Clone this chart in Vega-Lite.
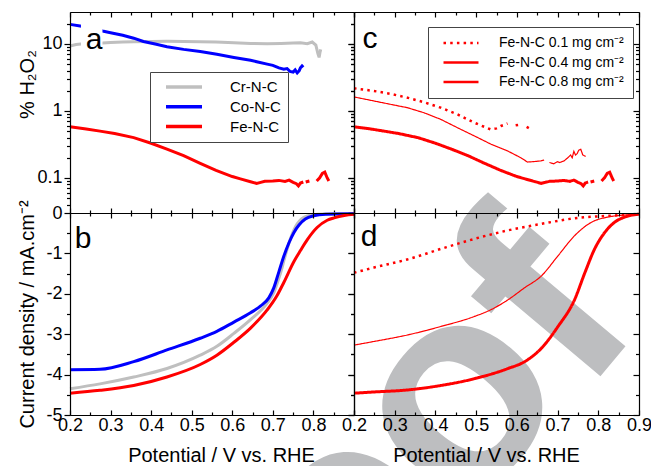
{
"$schema":"https://vega.github.io/schema/vega-lite/v6.json",
"padding":{"left":16,"top":11,"right":0,"bottom":0},
"config":{"font":"Liberation Sans","view":{"stroke":null},
"axis":{"domainColor":"#000","domainWidth":1.2,"tickColor":"#000","tickWidth":1.2,"labelColor":"#000","titleColor":"#000","grid":false,"zindex":1,"labelFontSize":18,"titleFontSize":20,"titleFontWeight":"normal","labelFlush":false,"labelOverlap":false,"labelBound":false,"labelFont":"Liberation Sans","titleFont":"Liberation Sans"},
"legend":{"labelFont":"Liberation Sans"}},
"columns":2,"spacing":0,"bounds":"flush",
"concat":[
{"width":284,"height":201,
"data":{"values":[
{"series":"Cr-N-C","seg":1,"V":0.2,"pct":9.3},{"series":"Cr-N-C","seg":1,"V":0.215,"pct":9.8},{"series":"Cr-N-C","seg":1,"V":0.233,"pct":10.1},{"series":"Cr-N-C","seg":1,"V":0.26,"pct":10.2},{"series":"Cr-N-C","seg":1,"V":0.28,"pct":10.3},{"series":"Cr-N-C","seg":1,"V":0.3,"pct":10.5},{"series":"Cr-N-C","seg":1,"V":0.33,"pct":10.7},{"series":"Cr-N-C","seg":1,"V":0.357,"pct":10.8},{"series":"Cr-N-C","seg":1,"V":0.4,"pct":10.9},{"series":"Cr-N-C","seg":1,"V":0.439,"pct":10.95},{"series":"Cr-N-C","seg":1,"V":0.48,"pct":10.9},{"series":"Cr-N-C","seg":1,"V":0.521,"pct":10.8},{"series":"Cr-N-C","seg":1,"V":0.56,"pct":10.7},{"series":"Cr-N-C","seg":1,"V":0.604,"pct":10.4},{"series":"Cr-N-C","seg":1,"V":0.645,"pct":10.2},{"series":"Cr-N-C","seg":1,"V":0.686,"pct":10.1},{"series":"Cr-N-C","seg":1,"V":0.72,"pct":10.2},{"series":"Cr-N-C","seg":1,"V":0.75,"pct":10.3},{"series":"Cr-N-C","seg":1,"V":0.768,"pct":10.4},{"series":"Cr-N-C","seg":1,"V":0.785,"pct":10.1},{"series":"Cr-N-C","seg":1,"V":0.797,"pct":10.7},{"series":"Cr-N-C","seg":1,"V":0.806,"pct":9.6},{"series":"Cr-N-C","seg":1,"V":0.811,"pct":7.2},{"series":"Cr-N-C","seg":1,"V":0.814,"pct":6.3},{"series":"Cr-N-C","seg":1,"V":0.816,"pct":7.4},{"series":"Cr-N-C","seg":1,"V":0.818,"pct":8.3},
{"series":"Co-N-C","seg":1,"V":0.2,"pct":19.6},{"series":"Co-N-C","seg":1,"V":0.225,"pct":18.6},{"series":"Co-N-C","seg":1,"V":0.25,"pct":17.5},{"series":"Co-N-C","seg":1,"V":0.28,"pct":15.6},{"series":"Co-N-C","seg":1,"V":0.3,"pct":14.7},{"series":"Co-N-C","seg":1,"V":0.33,"pct":13.5},{"series":"Co-N-C","seg":1,"V":0.357,"pct":12.2},{"series":"Co-N-C","seg":1,"V":0.381,"pct":10.9},{"series":"Co-N-C","seg":1,"V":0.41,"pct":10.0},{"series":"Co-N-C","seg":1,"V":0.439,"pct":9.1},{"series":"Co-N-C","seg":1,"V":0.48,"pct":8.3},{"series":"Co-N-C","seg":1,"V":0.521,"pct":7.7},{"series":"Co-N-C","seg":1,"V":0.562,"pct":7.0},{"series":"Co-N-C","seg":1,"V":0.604,"pct":6.3},{"series":"Co-N-C","seg":1,"V":0.645,"pct":5.7},{"series":"Co-N-C","seg":1,"V":0.686,"pct":5.0},{"series":"Co-N-C","seg":1,"V":0.7,"pct":4.8},{"series":"Co-N-C","seg":1,"V":0.715,"pct":4.4},{"series":"Co-N-C","seg":1,"V":0.727,"pct":4.2},{"series":"Co-N-C","seg":1,"V":0.735,"pct":4.3},{"series":"Co-N-C","seg":1,"V":0.742,"pct":3.9},{"series":"Co-N-C","seg":1,"V":0.75,"pct":3.8},{"series":"Co-N-C","seg":1,"V":0.755,"pct":4.1},{"series":"Co-N-C","seg":1,"V":0.76,"pct":3.7},{"series":"Co-N-C","seg":1,"V":0.765,"pct":4.0},{"series":"Co-N-C","seg":1,"V":0.768,"pct":4.4},{"series":"Co-N-C","seg":1,"V":0.772,"pct":4.7},{"series":"Co-N-C","seg":1,"V":0.775,"pct":4.5},
{"series":"Fe-N-C","seg":1,"V":0.2,"pct":0.58},{"series":"Fe-N-C","seg":1,"V":0.24,"pct":0.54},{"series":"Fe-N-C","seg":1,"V":0.274,"pct":0.5},{"series":"Fe-N-C","seg":1,"V":0.31,"pct":0.46},{"series":"Fe-N-C","seg":1,"V":0.357,"pct":0.4},{"series":"Fe-N-C","seg":1,"V":0.4,"pct":0.33},{"series":"Fe-N-C","seg":1,"V":0.439,"pct":0.27},{"series":"Fe-N-C","seg":1,"V":0.48,"pct":0.215},{"series":"Fe-N-C","seg":1,"V":0.521,"pct":0.165},{"series":"Fe-N-C","seg":1,"V":0.56,"pct":0.13},{"series":"Fe-N-C","seg":1,"V":0.6,"pct":0.105},{"series":"Fe-N-C","seg":1,"V":0.62,"pct":0.097},{"series":"Fe-N-C","seg":1,"V":0.645,"pct":0.088},{"series":"Fe-N-C","seg":1,"V":0.66,"pct":0.083},{"series":"Fe-N-C","seg":1,"V":0.67,"pct":0.086},{"series":"Fe-N-C","seg":1,"V":0.68,"pct":0.089},{"series":"Fe-N-C","seg":1,"V":0.7,"pct":0.09},{"series":"Fe-N-C","seg":1,"V":0.715,"pct":0.092},{"series":"Fe-N-C","seg":1,"V":0.73,"pct":0.089},{"series":"Fe-N-C","seg":1,"V":0.74,"pct":0.093},{"series":"Fe-N-C","seg":1,"V":0.75,"pct":0.086},{"series":"Fe-N-C","seg":1,"V":0.758,"pct":0.082},{"series":"Fe-N-C","seg":1,"V":0.763,"pct":0.076},{"series":"Fe-N-C","seg":1,"V":0.768,"pct":0.084},{"series":"Fe-N-C","seg":1,"V":0.775,"pct":0.087},
{"series":"Fe-N-C","seg":2,"V":0.781,"pct":0.087},{"series":"Fe-N-C","seg":2,"V":0.79,"pct":0.09},
{"series":"Fe-N-C","seg":3,"V":0.808,"pct":0.09},{"series":"Fe-N-C","seg":3,"V":0.815,"pct":0.1},{"series":"Fe-N-C","seg":3,"V":0.822,"pct":0.117},{"series":"Fe-N-C","seg":3,"V":0.828,"pct":0.122},{"series":"Fe-N-C","seg":3,"V":0.834,"pct":0.1},{"series":"Fe-N-C","seg":3,"V":0.838,"pct":0.09}
]},
"layer":[
{"mark":{"type":"line","strokeWidth":3,"clip":false},
"encoding":{
"x":{"field":"V","type":"quantitative","scale":{"domain":[0.2,0.9],"nice":false,"zero":false},
"axis":{"orient":"bottom","values":[0.2,0.3,0.4,0.5,0.6,0.7,0.8,0.9],"labels":false,"title":null,"tickSize":-5,"zindex":1}},
"y":{"field":"pct","type":"quantitative","scale":{"type":"log","domain":[0.03,30],"nice":false},
"axis":{"orient":"left","values":[0.1,1,10],"format":"~g","labelPadding":2,"title":"% H₂O₂","titleX":-33,"titleY":72,"tickSize":6,"zindex":1}},
"color":{"field":"series","type":"nominal","scale":{"domain":["Cr-N-C","Co-N-C","Fe-N-C"],"range":["#bfbfbf","#0000ff","#ff0000"]},
"legend":{"orient":"none","legendX":80,"legendY":60,"title":null,"symbolType":"M-3,0H3","symbolSize":144,"symbolOffset":19,"symbolStrokeWidth":3.5,"labelFontSize":15,"labelColor":"#000","labelExpr":"datum.label + '  '","strokeColor":"#444","fillColor":"#fff","padding":7,"rowPadding":3.8,"labelOffset":38}},
"detail":{"field":"seg","type":"nominal"}}},
{"mark":{"type":"line","opacity":0},
"encoding":{
"x":{"field":"V","type":"quantitative","axis":{"orient":"top","values":[0.2,0.3,0.4,0.5,0.6,0.7,0.8,0.9],"labels":false,"title":null,"tickSize":-5,"zindex":1}},
"y":{"field":"pct","type":"quantitative","axis":{"orient":"right","values":[0.1,1,10],"labels":false,"title":null,"tickSize":-6,"zindex":1}},
"detail":{"field":"series","type":"nominal"}}},
{"mark":{"type":"line","opacity":0},
"encoding":{
"x":{"field":"V","type":"quantitative","axis":{"orient":"bottom","values":[0.25,0.35,0.45,0.55,0.65,0.75,0.85],"domain":false,"labels":false,"title":null,"tickSize":-3,"zindex":1}},
"y":{"field":"pct","type":"quantitative","axis":{"orient":"left","values":[0.04,0.05,0.06,0.07,0.08,0.09,0.2,0.3,0.4,0.5,0.6,0.7,0.8,0.9,2,3,4,5,6,7,8,9,20],"domain":false,"labels":false,"title":null,"tickSize":3.5,"zindex":1}},
"detail":{"field":"series","type":"nominal"}}},
{"mark":{"type":"line","opacity":0},
"encoding":{
"x":{"field":"V","type":"quantitative","axis":{"orient":"top","values":[0.25,0.35,0.45,0.55,0.65,0.75,0.85],"domain":false,"labels":false,"title":null,"tickSize":-3,"zindex":1}},
"y":{"field":"pct","type":"quantitative","axis":{"orient":"right","values":[0.04,0.05,0.06,0.07,0.08,0.09,0.2,0.3,0.4,0.5,0.6,0.7,0.8,0.9,2,3,4,5,6,7,8,9,20],"domain":false,"labels":false,"title":null,"tickSize":-3.5,"zindex":1}},
"detail":{"field":"series","type":"nominal"}}},
{"data":{"values":[{"V":0.227,"V2":0.28,"pct":22,"pct2":7.9}]},"mark":{"type":"rect","fill":"#fff"},
"encoding":{"x":{"field":"V","type":"quantitative","axis":null},"x2":{"field":"V2"},"y":{"field":"pct","type":"quantitative","axis":null},"y2":{"field":"pct2"}}},
{"data":{"values":[{"lab":"a","V":0.239,"pct":8.4}]},"mark":{"type":"text","fontSize":30,"align":"left","baseline":"alphabetic","color":"#000"},
"encoding":{"x":{"field":"V","type":"quantitative","axis":null},"y":{"field":"pct","type":"quantitative","axis":null},"text":{"field":"lab"}}}
],
"resolve":{"axis":{"x":"independent","y":"independent"}}},

{"width":285,"height":201,
"data":{"values":[
{"series":"Fe-N-C 0.1 mg cm⁻²","seg":1,"V":0.2,"pct":2.18},{"series":"Fe-N-C 0.1 mg cm⁻²","seg":1,"V":0.249,"pct":1.99},{"series":"Fe-N-C 0.1 mg cm⁻²","seg":1,"V":0.29,"pct":1.8},{"series":"Fe-N-C 0.1 mg cm⁻²","seg":1,"V":0.331,"pct":1.58},{"series":"Fe-N-C 0.1 mg cm⁻²","seg":1,"V":0.372,"pct":1.35},{"series":"Fe-N-C 0.1 mg cm⁻²","seg":1,"V":0.413,"pct":1.12},{"series":"Fe-N-C 0.1 mg cm⁻²","seg":1,"V":0.454,"pct":0.89},{"series":"Fe-N-C 0.1 mg cm⁻²","seg":1,"V":0.495,"pct":0.67},{"series":"Fe-N-C 0.1 mg cm⁻²","seg":1,"V":0.52,"pct":0.58},{"series":"Fe-N-C 0.1 mg cm⁻²","seg":1,"V":0.536,"pct":0.53},{"series":"Fe-N-C 0.1 mg cm⁻²","seg":1,"V":0.55,"pct":0.55},{"series":"Fe-N-C 0.1 mg cm⁻²","seg":1,"V":0.561,"pct":0.597},{"series":"Fe-N-C 0.1 mg cm⁻²","seg":1,"V":0.577,"pct":0.65},
{"series":"Fe-N-C 0.1 mg cm⁻²","seg":2,"V":0.597,"pct":0.61},{"series":"Fe-N-C 0.1 mg cm⁻²","seg":2,"V":0.612,"pct":0.63},
{"series":"Fe-N-C 0.1 mg cm⁻²","seg":3,"V":0.624,"pct":0.58},{"series":"Fe-N-C 0.1 mg cm⁻²","seg":3,"V":0.633,"pct":0.54},
{"series":"Fe-N-C 0.4 mg cm⁻²","seg":1,"V":0.2,"pct":1.62},{"series":"Fe-N-C 0.4 mg cm⁻²","seg":1,"V":0.249,"pct":1.41},{"series":"Fe-N-C 0.4 mg cm⁻²","seg":1,"V":0.3,"pct":1.22},{"series":"Fe-N-C 0.4 mg cm⁻²","seg":1,"V":0.331,"pct":1.12},{"series":"Fe-N-C 0.4 mg cm⁻²","seg":1,"V":0.372,"pct":0.94},{"series":"Fe-N-C 0.4 mg cm⁻²","seg":1,"V":0.413,"pct":0.75},{"series":"Fe-N-C 0.4 mg cm⁻²","seg":1,"V":0.454,"pct":0.563},{"series":"Fe-N-C 0.4 mg cm⁻²","seg":1,"V":0.496,"pct":0.423},{"series":"Fe-N-C 0.4 mg cm⁻²","seg":1,"V":0.537,"pct":0.318},{"series":"Fe-N-C 0.4 mg cm⁻²","seg":1,"V":0.578,"pct":0.252},{"series":"Fe-N-C 0.4 mg cm⁻²","seg":1,"V":0.61,"pct":0.2},{"series":"Fe-N-C 0.4 mg cm⁻²","seg":1,"V":0.626,"pct":0.173},{"series":"Fe-N-C 0.4 mg cm⁻²","seg":1,"V":0.64,"pct":0.175},{"series":"Fe-N-C 0.4 mg cm⁻²","seg":1,"V":0.659,"pct":0.18},{"series":"Fe-N-C 0.4 mg cm⁻²","seg":1,"V":0.667,"pct":0.185},
{"series":"Fe-N-C 0.4 mg cm⁻²","seg":2,"V":0.68,"pct":0.17},{"series":"Fe-N-C 0.4 mg cm⁻²","seg":2,"V":0.691,"pct":0.163},{"series":"Fe-N-C 0.4 mg cm⁻²","seg":2,"V":0.7,"pct":0.175},{"series":"Fe-N-C 0.4 mg cm⁻²","seg":2,"V":0.705,"pct":0.17},{"series":"Fe-N-C 0.4 mg cm⁻²","seg":2,"V":0.716,"pct":0.18},{"series":"Fe-N-C 0.4 mg cm⁻²","seg":2,"V":0.725,"pct":0.2},{"series":"Fe-N-C 0.4 mg cm⁻²","seg":2,"V":0.732,"pct":0.22},{"series":"Fe-N-C 0.4 mg cm⁻²","seg":2,"V":0.736,"pct":0.2},{"series":"Fe-N-C 0.4 mg cm⁻²","seg":2,"V":0.74,"pct":0.25},{"series":"Fe-N-C 0.4 mg cm⁻²","seg":2,"V":0.744,"pct":0.22},{"series":"Fe-N-C 0.4 mg cm⁻²","seg":2,"V":0.748,"pct":0.23},{"series":"Fe-N-C 0.4 mg cm⁻²","seg":2,"V":0.752,"pct":0.26},{"series":"Fe-N-C 0.4 mg cm⁻²","seg":2,"V":0.757,"pct":0.268},{"series":"Fe-N-C 0.4 mg cm⁻²","seg":2,"V":0.762,"pct":0.22},{"series":"Fe-N-C 0.4 mg cm⁻²","seg":2,"V":0.769,"pct":0.21},
{"series":"Fe-N-C 0.8 mg cm⁻²","seg":1,"V":0.2,"pct":0.58},{"series":"Fe-N-C 0.8 mg cm⁻²","seg":1,"V":0.24,"pct":0.54},{"series":"Fe-N-C 0.8 mg cm⁻²","seg":1,"V":0.274,"pct":0.5},{"series":"Fe-N-C 0.8 mg cm⁻²","seg":1,"V":0.31,"pct":0.46},{"series":"Fe-N-C 0.8 mg cm⁻²","seg":1,"V":0.357,"pct":0.4},{"series":"Fe-N-C 0.8 mg cm⁻²","seg":1,"V":0.4,"pct":0.33},{"series":"Fe-N-C 0.8 mg cm⁻²","seg":1,"V":0.439,"pct":0.27},{"series":"Fe-N-C 0.8 mg cm⁻²","seg":1,"V":0.48,"pct":0.215},{"series":"Fe-N-C 0.8 mg cm⁻²","seg":1,"V":0.521,"pct":0.165},{"series":"Fe-N-C 0.8 mg cm⁻²","seg":1,"V":0.56,"pct":0.13},{"series":"Fe-N-C 0.8 mg cm⁻²","seg":1,"V":0.6,"pct":0.105},{"series":"Fe-N-C 0.8 mg cm⁻²","seg":1,"V":0.62,"pct":0.097},{"series":"Fe-N-C 0.8 mg cm⁻²","seg":1,"V":0.645,"pct":0.088},{"series":"Fe-N-C 0.8 mg cm⁻²","seg":1,"V":0.66,"pct":0.083},{"series":"Fe-N-C 0.8 mg cm⁻²","seg":1,"V":0.67,"pct":0.086},{"series":"Fe-N-C 0.8 mg cm⁻²","seg":1,"V":0.68,"pct":0.089},{"series":"Fe-N-C 0.8 mg cm⁻²","seg":1,"V":0.7,"pct":0.09},{"series":"Fe-N-C 0.8 mg cm⁻²","seg":1,"V":0.715,"pct":0.092},{"series":"Fe-N-C 0.8 mg cm⁻²","seg":1,"V":0.73,"pct":0.089},{"series":"Fe-N-C 0.8 mg cm⁻²","seg":1,"V":0.74,"pct":0.093},{"series":"Fe-N-C 0.8 mg cm⁻²","seg":1,"V":0.75,"pct":0.086},{"series":"Fe-N-C 0.8 mg cm⁻²","seg":1,"V":0.758,"pct":0.082},{"series":"Fe-N-C 0.8 mg cm⁻²","seg":1,"V":0.763,"pct":0.076},{"series":"Fe-N-C 0.8 mg cm⁻²","seg":1,"V":0.768,"pct":0.084},{"series":"Fe-N-C 0.8 mg cm⁻²","seg":1,"V":0.775,"pct":0.087},
{"series":"Fe-N-C 0.8 mg cm⁻²","seg":2,"V":0.781,"pct":0.087},{"series":"Fe-N-C 0.8 mg cm⁻²","seg":2,"V":0.79,"pct":0.09},
{"series":"Fe-N-C 0.8 mg cm⁻²","seg":3,"V":0.808,"pct":0.09},{"series":"Fe-N-C 0.8 mg cm⁻²","seg":3,"V":0.815,"pct":0.1},{"series":"Fe-N-C 0.8 mg cm⁻²","seg":3,"V":0.822,"pct":0.117},{"series":"Fe-N-C 0.8 mg cm⁻²","seg":3,"V":0.828,"pct":0.122},{"series":"Fe-N-C 0.8 mg cm⁻²","seg":3,"V":0.834,"pct":0.1},{"series":"Fe-N-C 0.8 mg cm⁻²","seg":3,"V":0.838,"pct":0.09}
]},
"layer":[
{"mark":{"type":"line","color":"#ff0000","clip":false},
"encoding":{
"x":{"field":"V","type":"quantitative","scale":{"domain":[0.2,0.9],"nice":false,"zero":false},
"axis":{"orient":"bottom","values":[0.2,0.3,0.4,0.5,0.6,0.7,0.8,0.9],"labels":false,"title":null,"tickSize":-5,"zindex":1}},
"y":{"field":"pct","type":"quantitative","scale":{"type":"log","domain":[0.03,30],"nice":false},
"axis":{"orient":"left","values":[0.1,1,10],"labels":false,"title":null,"tickSize":6,"zindex":1}},
"strokeDash":{"field":"series","type":"nominal","scale":{"domain":["Fe-N-C 0.1 mg cm⁻²","Fe-N-C 0.4 mg cm⁻²","Fe-N-C 0.8 mg cm⁻²"],"range":[[2.5,4.2],[1,0],[1,0]]},
"legend":{"orient":"none","legendX":358,"legendY":15,"title":null,"symbolType":"M-3,0H3","symbolSize":136,"symbolOffset":17,"symbolStrokeColor":"#ff0000","symbolStrokeWidth":2.3,"labelFontSize":14,"labelColor":"#000","labelExpr":"datum.label + '     '","strokeColor":"#444","fillColor":"#fff","padding":9,"rowPadding":5.5,"labelOffset":31}},
"strokeWidth":{"condition":[{"test":"indexof(datum.series,'0.4')>=0","value":1.2},{"test":"indexof(datum.series,'0.1')>=0","value":2.5}],"value":3},
"detail":{"field":"seg","type":"nominal"}}},
{"mark":{"type":"line","opacity":0},
"encoding":{
"x":{"field":"V","type":"quantitative","axis":{"orient":"top","values":[0.2,0.3,0.4,0.5,0.6,0.7,0.8,0.9],"labels":false,"title":null,"tickSize":-5,"zindex":1}},
"y":{"field":"pct","type":"quantitative","axis":{"orient":"right","values":[0.1,1,10],"labels":false,"title":null,"tickSize":-6,"zindex":1}},
"detail":{"field":"series","type":"nominal"}}},
{"mark":{"type":"line","opacity":0},
"encoding":{
"x":{"field":"V","type":"quantitative","axis":{"orient":"bottom","values":[0.25,0.35,0.45,0.55,0.65,0.75,0.85],"domain":false,"labels":false,"title":null,"tickSize":-3,"zindex":1}},
"y":{"field":"pct","type":"quantitative","axis":{"orient":"left","values":[0.04,0.05,0.06,0.07,0.08,0.09,0.2,0.3,0.4,0.5,0.6,0.7,0.8,0.9,2,3,4,5,6,7,8,9,20],"domain":false,"labels":false,"title":null,"tickSize":3.5,"zindex":1}},
"detail":{"field":"series","type":"nominal"}}},
{"mark":{"type":"line","opacity":0},
"encoding":{
"x":{"field":"V","type":"quantitative","axis":{"orient":"top","values":[0.25,0.35,0.45,0.55,0.65,0.75,0.85],"domain":false,"labels":false,"title":null,"tickSize":-3,"zindex":1}},
"y":{"field":"pct","type":"quantitative","axis":{"orient":"right","values":[0.04,0.05,0.06,0.07,0.08,0.09,0.2,0.3,0.4,0.5,0.6,0.7,0.8,0.9,2,3,4,5,6,7,8,9,20],"domain":false,"labels":false,"title":null,"tickSize":-3.5,"zindex":1}},
"detail":{"field":"series","type":"nominal"}}},
{"data":{"values":[{"lab":"c","V":0.221,"pct":8.8}]},"mark":{"type":"text","fontSize":30,"align":"left","baseline":"alphabetic","color":"#000"},
"encoding":{"x":{"field":"V","type":"quantitative","axis":null},"y":{"field":"pct","type":"quantitative","axis":null},"text":{"field":"lab"}}}
],
"resolve":{"axis":{"x":"independent","y":"independent"}}},

{"width":284,"height":202,
"data":{"values":[
{"series":"Cr-N-C","V":0.2,"J":-4.35},{"series":"Cr-N-C","V":0.274,"J":-4.23},{"series":"Cr-N-C","V":0.357,"J":-4.06},{"series":"Cr-N-C","V":0.439,"J":-3.85},{"series":"Cr-N-C","V":0.521,"J":-3.52},{"series":"Cr-N-C","V":0.562,"J":-3.3},{"series":"Cr-N-C","V":0.604,"J":-2.98},{"series":"Cr-N-C","V":0.645,"J":-2.64},{"series":"Cr-N-C","V":0.686,"J":-2.23},{"series":"Cr-N-C","V":0.702,"J":-1.98},{"series":"Cr-N-C","V":0.712,"J":-1.7},{"series":"Cr-N-C","V":0.72,"J":-1.45},{"series":"Cr-N-C","V":0.728,"J":-1.15},{"series":"Cr-N-C","V":0.735,"J":-0.9},{"series":"Cr-N-C","V":0.744,"J":-0.62},{"series":"Cr-N-C","V":0.752,"J":-0.42},{"series":"Cr-N-C","V":0.76,"J":-0.27},{"series":"Cr-N-C","V":0.77,"J":-0.15},{"series":"Cr-N-C","V":0.785,"J":-0.07},{"series":"Cr-N-C","V":0.81,"J":-0.03},{"series":"Cr-N-C","V":0.85,"J":-0.02},{"series":"Cr-N-C","V":0.9,"J":-0.02},
{"series":"Co-N-C","V":0.2,"J":-3.88},{"series":"Co-N-C","V":0.274,"J":-3.87},{"series":"Co-N-C","V":0.357,"J":-3.68},{"series":"Co-N-C","V":0.439,"J":-3.39},{"series":"Co-N-C","V":0.521,"J":-3.1},{"series":"Co-N-C","V":0.562,"J":-2.93},{"series":"Co-N-C","V":0.604,"J":-2.7},{"series":"Co-N-C","V":0.645,"J":-2.47},{"series":"Co-N-C","V":0.67,"J":-2.3},{"series":"Co-N-C","V":0.69,"J":-2.1},{"series":"Co-N-C","V":0.702,"J":-1.86},{"series":"Co-N-C","V":0.715,"J":-1.45},{"series":"Co-N-C","V":0.727,"J":-1.07},{"series":"Co-N-C","V":0.74,"J":-0.73},{"series":"Co-N-C","V":0.752,"J":-0.48},{"series":"Co-N-C","V":0.765,"J":-0.29},{"series":"Co-N-C","V":0.78,"J":-0.15},{"series":"Co-N-C","V":0.8,"J":-0.07},{"series":"Co-N-C","V":0.83,"J":-0.03},{"series":"Co-N-C","V":0.9,"J":-0.02},
{"series":"Fe-N-C","V":0.2,"J":-4.46},{"series":"Fe-N-C","V":0.274,"J":-4.39},{"series":"Fe-N-C","V":0.357,"J":-4.27},{"series":"Fe-N-C","V":0.439,"J":-4.06},{"series":"Fe-N-C","V":0.521,"J":-3.75},{"series":"Fe-N-C","V":0.562,"J":-3.52},{"series":"Fe-N-C","V":0.604,"J":-3.2},{"series":"Fe-N-C","V":0.645,"J":-2.85},{"series":"Fe-N-C","V":0.686,"J":-2.4},{"series":"Fe-N-C","V":0.71,"J":-2.05},{"series":"Fe-N-C","V":0.727,"J":-1.72},{"series":"Fe-N-C","V":0.752,"J":-1.2},{"series":"Fe-N-C","V":0.768,"J":-0.93},{"series":"Fe-N-C","V":0.785,"J":-0.66},{"series":"Fe-N-C","V":0.809,"J":-0.36},{"series":"Fe-N-C","V":0.834,"J":-0.18},{"series":"Fe-N-C","V":0.851,"J":-0.12},{"series":"Fe-N-C","V":0.876,"J":-0.06},{"series":"Fe-N-C","V":0.9,"J":-0.03}
]},
"layer":[
{"mark":{"type":"line","strokeWidth":3,"interpolate":"monotone","clip":false},
"encoding":{
"x":{"field":"V","type":"quantitative","scale":{"domain":[0.2,0.9],"nice":false,"zero":false},
"axis":{"orient":"bottom","values":[0.2,0.3,0.4,0.5,0.6,0.7,0.8,0.9],"labelExpr":"datum.value>0.85 ? '' : format(datum.value,'.1f')","labelPadding":6,"title":"Potential / V vs. RHE","titleX":151,"titleY":30,"tickSize":-5,"zindex":1}},
"y":{"field":"J","type":"quantitative","scale":{"domain":[-5,0],"nice":false,"zero":false},
"axis":{"orient":"left","values":[-5,-4,-3,-2,-1,0],"labelExpr":"'' + datum.value","labelPadding":2,"title":"Current density / mA.cm⁻²","titleX":-33,"titleY":101,"tickSize":6,"zindex":1}},
"color":{"field":"series","type":"nominal","scale":{"domain":["Cr-N-C","Co-N-C","Fe-N-C"],"range":["#bfbfbf","#0000ff","#ff0000"]},"legend":null}}},
{"mark":{"type":"line","opacity":0},
"encoding":{
"x":{"field":"V","type":"quantitative","axis":{"orient":"top","values":[0.2,0.3,0.4,0.5,0.6,0.7,0.8,0.9],"labels":false,"title":null,"tickSize":-5,"zindex":1}},
"y":{"field":"J","type":"quantitative","axis":{"orient":"right","values":[-5,-4,-3,-2,-1,0],"labels":false,"title":null,"tickSize":-6,"zindex":1}},
"detail":{"field":"series","type":"nominal"}}},
{"mark":{"type":"line","opacity":0},
"encoding":{
"x":{"field":"V","type":"quantitative","axis":{"orient":"bottom","values":[0.25,0.35,0.45,0.55,0.65,0.75,0.85],"domain":false,"labels":false,"title":null,"tickSize":-3,"zindex":1}},
"y":{"field":"J","type":"quantitative","axis":{"orient":"left","values":[-4.5,-3.5,-2.5,-1.5,-0.5],"domain":false,"labels":false,"title":null,"tickSize":3.5,"zindex":1}},
"detail":{"field":"series","type":"nominal"}}},
{"mark":{"type":"line","opacity":0},
"encoding":{
"x":{"field":"V","type":"quantitative","axis":{"orient":"top","values":[0.25,0.35,0.45,0.55,0.65,0.75,0.85],"domain":false,"labels":false,"title":null,"tickSize":-3,"zindex":1}},
"y":{"field":"J","type":"quantitative","axis":{"orient":"right","values":[-4.5,-3.5,-2.5,-1.5,-0.5],"domain":false,"labels":false,"title":null,"tickSize":-3.5,"zindex":1}},
"detail":{"field":"series","type":"nominal"}}},
{"data":{"values":[{"lab":"b","V":0.2116,"J":-0.86}]},"mark":{"type":"text","fontSize":30,"align":"left","baseline":"alphabetic","color":"#000"},
"encoding":{"x":{"field":"V","type":"quantitative","axis":null},"y":{"field":"J","type":"quantitative","axis":null},"text":{"field":"lab"}}}
],
"resolve":{"axis":{"x":"independent","y":"independent"}}},

{"width":285,"height":202,
"data":{"values":[
{"series":"Fe-N-C 0.1 mg cm⁻²","V":0.2,"J":-1.48},{"series":"Fe-N-C 0.1 mg cm⁻²","V":0.249,"J":-1.35},{"series":"Fe-N-C 0.1 mg cm⁻²","V":0.331,"J":-1.15},{"series":"Fe-N-C 0.1 mg cm⁻²","V":0.413,"J":-0.89},{"series":"Fe-N-C 0.1 mg cm⁻²","V":0.496,"J":-0.64},{"series":"Fe-N-C 0.1 mg cm⁻²","V":0.578,"J":-0.43},{"series":"Fe-N-C 0.1 mg cm⁻²","V":0.66,"J":-0.27},{"series":"Fe-N-C 0.1 mg cm⁻²","V":0.742,"J":-0.13},{"series":"Fe-N-C 0.1 mg cm⁻²","V":0.824,"J":-0.07},{"series":"Fe-N-C 0.1 mg cm⁻²","V":0.9,"J":-0.03},
{"series":"Fe-N-C 0.4 mg cm⁻²","V":0.2,"J":-3.27},{"series":"Fe-N-C 0.4 mg cm⁻²","V":0.249,"J":-3.18},{"series":"Fe-N-C 0.4 mg cm⁻²","V":0.331,"J":-3.02},{"series":"Fe-N-C 0.4 mg cm⁻²","V":0.413,"J":-2.81},{"series":"Fe-N-C 0.4 mg cm⁻²","V":0.496,"J":-2.56},{"series":"Fe-N-C 0.4 mg cm⁻²","V":0.537,"J":-2.39},{"series":"Fe-N-C 0.4 mg cm⁻²","V":0.578,"J":-2.15},{"series":"Fe-N-C 0.4 mg cm⁻²","V":0.619,"J":-1.85},{"series":"Fe-N-C 0.4 mg cm⁻²","V":0.66,"J":-1.56},{"series":"Fe-N-C 0.4 mg cm⁻²","V":0.701,"J":-1.06},{"series":"Fe-N-C 0.4 mg cm⁻²","V":0.742,"J":-0.56},{"series":"Fe-N-C 0.4 mg cm⁻²","V":0.783,"J":-0.23},{"series":"Fe-N-C 0.4 mg cm⁻²","V":0.824,"J":-0.1},{"series":"Fe-N-C 0.4 mg cm⁻²","V":0.865,"J":-0.05},{"series":"Fe-N-C 0.4 mg cm⁻²","V":0.9,"J":-0.03},
{"series":"Fe-N-C 0.8 mg cm⁻²","V":0.2,"J":-4.46},{"series":"Fe-N-C 0.8 mg cm⁻²","V":0.249,"J":-4.43},{"series":"Fe-N-C 0.8 mg cm⁻²","V":0.331,"J":-4.38},{"series":"Fe-N-C 0.8 mg cm⁻²","V":0.413,"J":-4.27},{"series":"Fe-N-C 0.8 mg cm⁻²","V":0.496,"J":-4.1},{"series":"Fe-N-C 0.8 mg cm⁻²","V":0.578,"J":-3.85},{"series":"Fe-N-C 0.8 mg cm⁻²","V":0.619,"J":-3.68},{"series":"Fe-N-C 0.8 mg cm⁻²","V":0.66,"J":-3.35},{"series":"Fe-N-C 0.8 mg cm⁻²","V":0.701,"J":-2.81},{"series":"Fe-N-C 0.8 mg cm⁻²","V":0.742,"J":-2.14},{"series":"Fe-N-C 0.8 mg cm⁻²","V":0.767,"J":-1.48},{"series":"Fe-N-C 0.8 mg cm⁻²","V":0.791,"J":-0.89},{"series":"Fe-N-C 0.8 mg cm⁻²","V":0.816,"J":-0.48},{"series":"Fe-N-C 0.8 mg cm⁻²","V":0.84,"J":-0.23},{"series":"Fe-N-C 0.8 mg cm⁻²","V":0.865,"J":-0.1},{"series":"Fe-N-C 0.8 mg cm⁻²","V":0.9,"J":-0.03}
]},
"layer":[
{"data":{"values":[{"t":"o","V":0.446,"J":-4.62},{"t":"f","V":0.676,"J":-2.28},{"t":"o","V":0.174,"J":-7.74}]},
"mark":{"type":"text","fontSize":285,"fontWeight":"bold","angle":310,"align":"center","baseline":"middle","color":"#bdbec0"},
"encoding":{"x":{"field":"V","type":"quantitative","scale":{"domain":[0.2,0.9],"nice":false,"zero":false},"axis":null},"y":{"field":"J","type":"quantitative","scale":{"domain":[-5,0],"nice":false,"zero":false},"axis":null},"text":{"field":"t"}}},
{"mark":{"type":"line","color":"#ff0000","interpolate":"monotone","clip":false},
"encoding":{
"x":{"field":"V","type":"quantitative",
"axis":{"orient":"bottom","values":[0.2,0.3,0.4,0.5,0.6,0.7,0.8,0.9],"format":".1f","labelPadding":6,"title":"Potential / V vs. RHE","titleX":132,"titleY":30,"tickSize":-5,"zindex":1}},
"y":{"field":"J","type":"quantitative",
"axis":{"orient":"left","values":[-5,-4,-3,-2,-1,0],"labels":false,"title":null,"tickSize":6,"zindex":1}},
"strokeDash":{"field":"series","type":"nominal","scale":{"domain":["Fe-N-C 0.1 mg cm⁻²","Fe-N-C 0.4 mg cm⁻²","Fe-N-C 0.8 mg cm⁻²"],"range":[[2.5,4.2],[1,0],[1,0]]},"legend":null},
"strokeWidth":{"condition":[{"test":"indexof(datum.series,'0.4')>=0","value":1.2},{"test":"indexof(datum.series,'0.1')>=0","value":2.5}],"value":3}}},
{"mark":{"type":"line","opacity":0},
"encoding":{
"x":{"field":"V","type":"quantitative","axis":{"orient":"top","values":[0.2,0.3,0.4,0.5,0.6,0.7,0.8,0.9],"labels":false,"title":null,"tickSize":-5,"zindex":1}},
"y":{"field":"J","type":"quantitative","axis":{"orient":"right","values":[-5,-4,-3,-2,-1,0],"labels":false,"title":null,"tickSize":-6,"zindex":1}},
"detail":{"field":"series","type":"nominal"}}},
{"mark":{"type":"line","opacity":0},
"encoding":{
"x":{"field":"V","type":"quantitative","axis":{"orient":"bottom","values":[0.25,0.35,0.45,0.55,0.65,0.75,0.85],"domain":false,"labels":false,"title":null,"tickSize":-3,"zindex":1}},
"y":{"field":"J","type":"quantitative","axis":{"orient":"left","values":[-4.5,-3.5,-2.5,-1.5,-0.5],"domain":false,"labels":false,"title":null,"tickSize":3.5,"zindex":1}},
"detail":{"field":"series","type":"nominal"}}},
{"mark":{"type":"line","opacity":0},
"encoding":{
"x":{"field":"V","type":"quantitative","axis":{"orient":"top","values":[0.25,0.35,0.45,0.55,0.65,0.75,0.85],"domain":false,"labels":false,"title":null,"tickSize":-3,"zindex":1}},
"y":{"field":"J","type":"quantitative","axis":{"orient":"right","values":[-4.5,-3.5,-2.5,-1.5,-0.5],"domain":false,"labels":false,"title":null,"tickSize":-3.5,"zindex":1}},
"detail":{"field":"series","type":"nominal"}}},
{"data":{"values":[{"lab":"d","V":0.2165,"J":-0.82}]},"mark":{"type":"text","fontSize":30,"align":"left","baseline":"alphabetic","color":"#000"},
"encoding":{"x":{"field":"V","type":"quantitative","axis":null},"y":{"field":"J","type":"quantitative","axis":null},"text":{"field":"lab"}}}
],
"resolve":{"axis":{"x":"independent","y":"independent"}}}
]
}
